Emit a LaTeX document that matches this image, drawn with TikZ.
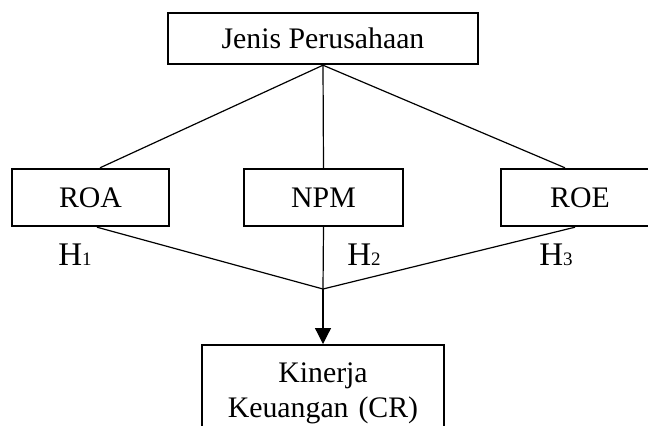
\documentclass[tikz,border=0pt]{standalone}
\usepackage{fontspec}
\setmainfont{Liberation Serif}
\usetikzlibrary{arrows.meta,positioning,calc}

\begin{document}
\begin{tikzpicture}[x=0.5pt,y=-0.5pt,
    kotak/.style={draw,line width=1.2pt,inner sep=0pt,font=\fontsize{14.9}{17.5}\selectfont},
    garis/.style={line width=0.6pt},
    hipo/.style={inner sep=0pt,font=\fontsize{16.5}{18}\selectfont}]
  \clip (0,0) rectangle (648,425);
  \node[kotak,minimum width=155pt,minimum height=25.5pt] (JP) at (323,38.5) {Jenis Perusahaan};
  \node[kotak,minimum width=78.5pt,minimum height=28.5pt] (ROA) at (90.5,197.5) {ROA};
  \node[kotak,minimum width=79.5pt,minimum height=28.5pt] (NPM) at (323.5,197.5) {NPM};
  \node[kotak,minimum width=79pt,minimum height=28.5pt] (ROE) at (580,197.5) {ROE};
  \node[kotak,anchor=north,minimum width=121pt,minimum height=48pt,text width=115pt,align=center] (KK) at (323,344) {Kinerja\\Keuangan (CR)};
  \node[hipo] (H1) at (75,254.5) {H{\fontsize{9.5}{10}\selectfont 1}};
  \node[hipo] (H2) at (364,254.5) {H{\fontsize{9.5}{10}\selectfont 2}};
  \node[hipo] (H3) at (556,254.5) {H{\fontsize{9.5}{10}\selectfont 3}};
  \coordinate (temu) at (323,289);
  \draw[garis] (JP.south) -- ([xshift=4.75pt]ROA.north);
  \draw[garis] (JP.south) -- (NPM.north);
  \draw[garis] (JP.south) -- ([xshift=-7.5pt]ROE.north);
  \draw[garis] ([xshift=3.25pt]ROA.south) -- (temu);
  \draw[garis] (NPM.south) -- (temu);
  \draw[garis] ([xshift=-2.5pt]ROE.south) -- (temu);
  \draw[garis,-{Triangle[length=8pt,width=8pt]}] (temu) -- (KK.north);
\end{tikzpicture}
\end{document}
